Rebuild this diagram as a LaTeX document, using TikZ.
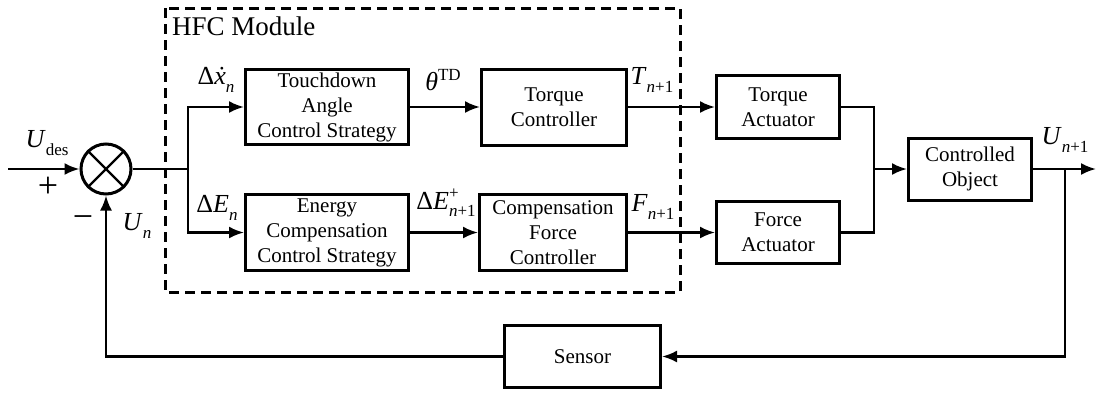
\documentclass[tikz,border=0pt]{standalone}
\usepackage{fontspec}
\setmainfont{Liberation Serif}
\usetikzlibrary{arrows.meta}

\newcommand\lsub[1]{\raisebox{-0.65ex}{\fontsize{17}{17}\selectfont #1}}
\newcommand\lsup[1]{\raisebox{0.85ex}{\fontsize{17}{17}\selectfont #1}}

\begin{document}
\begin{tikzpicture}[> = {Latex[length = 15pt, width = 12pt]}, x = 1pt, y = -1pt, line width = 2.4pt,
	block/.style = {draw, line width = 3pt, align = center, inner sep = 0pt, font = \fontsize{21}{25}\selectfont},
	sig/.style = {font = \fontsize{26}{26}\selectfont, inner sep = 0pt},
	sign/.style = {font = \fontsize{36}{36}\selectfont, inner sep = 0pt}]

\useasboundingbox (0, 0) rectangle (1097, 394);

\draw [line width = 3pt, dash pattern = on 10pt off 6pt] (165, 8) rectangle (680, 292);
\node [anchor = west, font = \fontsize{27}{27}\selectfont, inner sep = 0pt] (hfc) at (171, 26) {HFC Module};

\node [draw, circle, line width = 3pt, minimum size = 50pt, inner sep = 0pt] (sum) at (106, 169) {};
\draw (sum.45) -- (sum.225);
\draw (sum.135) -- (sum.315);

\node [block, minimum width = 163pt, minimum height = 75pt] (td) at (327, 107) {Touchdown\\Angle\\Control Strategy};
\node [block, minimum width = 163pt, minimum height = 76pt] (ec) at (327, 232.5) {Energy\\Compensation\\Control Strategy};
\node [block, minimum width = 145pt, minimum height = 76pt] (tc) at (554, 107) {Torque\\Controller};
\node [block, minimum width = 147pt, minimum height = 76pt] (cf) at (553, 232.5) {Compensation\\Force\\Controller};
\node [block, minimum width = 123pt, minimum height = 63pt] (ta) at (778, 107) {Torque\\Actuator};
\node [block, minimum width = 123pt, minimum height = 62pt] (fa) at (778, 232.5) {Force\\Actuator};
\node [block, minimum width = 123pt, minimum height = 62pt] (co) at (970, 169) {Controlled\\Object};
\node [block, minimum width = 156pt, minimum height = 62pt] (sensor) at (582.5, 356.5) {Sensor};

\coordinate (in) at (8, 169);
\coordinate (split) at (188, 169);
\coordinate (join) at (874, 169);
\coordinate (fb) at (1065, 169);
\coordinate (out) at (1096, 169);

\draw [->] (in) -- (sum);
\draw (sum) -- (split);
\draw [->] (split) |- (td);
\draw [->] (split) |- (ec);
\draw [->] (td) -- (tc);
\draw [->] (ec) -- (cf);
\draw [->] (tc) -- (ta);
\draw [->] (cf) -- (fa);
\draw (ta) -| (join);
\draw (fa) -| (join);
\draw [->] (join) -- (co);
\draw [->] (co) -- (out);
\draw [->] (fb) |- (sensor);
\draw [->] (sensor) -| (sum);

\node [sig] (udes) at (47, 143) {\textit{U}\lsub{des}};
\node [sign] (plus) at (48, 187) {+};
\node [sign] (minus) at (83, 222) {−};
\node [sig] (un) at (137, 226) {\textit{U}\lsub{\textit{n}}};
\node [sig] (dx) at (216, 80) {Δ\textit{\.x}\lsub{\textit{n}}};
\node [sig] (de) at (217, 208) {Δ\textit{E}\lsub{\textit{n}}};
\node [sig] (theta) at (443, 80) {\textit{θ}\lsup{TD}};
\node [sig] (dep) at (446, 203) {Δ\textit{E}\lsup{\rlap{+}}\lsub{\textit{n}+1}};
\node [sig] (tn) at (652, 80) {\textit{T}\lsub{\textit{n}+1}};
\node [sig] (fn) at (653, 207) {\textit{F}\lsub{\textit{n}+1}};
\node [sig] (unn) at (1065, 140) {\textit{U}\lsub{\textit{n}+1}};

\end{tikzpicture}
\end{document}
